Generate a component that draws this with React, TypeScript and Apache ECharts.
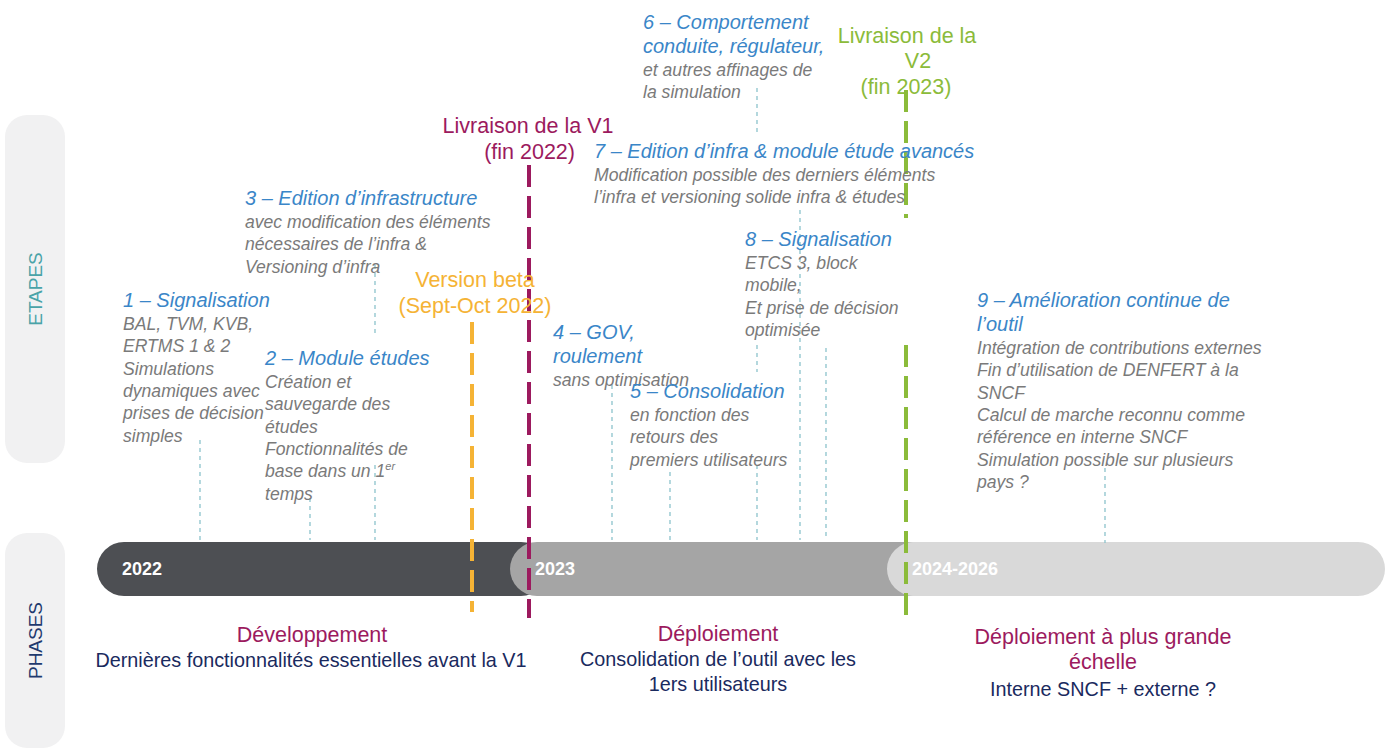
import React, { useEffect, useRef } from "react";
import * as echarts from "echarts";

const FONT = "'Helvetica Neue', 'Liberation Sans', Arial, sans-serif";

// Phase bars: [x0, x1, label, color]
const phases: [number, number, string, string][] = [
  [97, 548, "2022", "#4d4f53"],
  [510, 935, "2023", "#a5a5a5"],
  [887, 1385, "2024-2026", "#d9d9d9"],
];

// Milestone dashed lines: [x, y0, y1, color]
const milestoneLines: [number, number, number, string][] = [
  [472, 322, 612, "#f5b335"],
  [529, 165, 618, "#9c1a5e"],
  [906, 90, 218, "#8bbb3a"],
  [906, 345, 615, "#8bbb3a"],
];

// Thin connectors: [x, y0, y1]
const connectors: [number, number, number][] = [
  [200, 440, 540], [310, 498, 540], [375, 265, 335], [375, 465, 540],
  [612, 385, 540], [670, 472, 540], [757, 88, 132], [757, 345, 372],
  [757, 465, 540], [800, 210, 540], [826, 348, 540], [1105, 468, 543],
];

// Step texts: [x, yFirstLine, titleLines, bodyLines]
const steps: [number, number, string[], string[]][] = [
  [123, 300, ["1 – Signalisation"], ["BAL, TVM, KVB,", "ERTMS 1 & 2", "Simulations", "dynamiques avec", "prises de décision", "simples"]],
  [265, 358, ["2 – Module études"], ["Création et", "sauvegarde des", "études", "Fonctionnalités de", "base dans un 1{sup|er}", "temps"]],
  [245, 198, ["3 – Edition d’infrastructure"], ["avec modification des éléments", "nécessaires de l’infra &", "Versioning d’infra"]],
  [553, 332, ["4 – GOV,", "roulement"], ["sans optimisation"]],
  [630, 391, ["5 – Consolidation"], ["en fonction des", "retours des", "premiers utilisateurs"]],
  [643, 22, ["6 – Comportement", "conduite, régulateur,"], ["et autres affinages de", "la simulation"]],
  [594, 151, ["7 – Edition d’infra & module étude avancés"], ["Modification possible des derniers éléments", "l’infra et versioning solide infra & études"]],
  [745, 239, ["8 – Signalisation"], ["ETCS 3, block", "mobile,", "Et prise de décision", "optimisée"]],
  [977, 300, ["9 – Amélioration continue de", "l’outil"], ["Intégration de contributions externes", "Fin d’utilisation de DENFERT à la", "SNCF", "Calcul de marche reconnu comme", "référence en interne SNCF", "Simulation possible sur plusieurs", "pays ?"]],
];

// Milestone labels: [x, y, text, color, align]
const milestoneLabels: [number, number, string, string, string][] = [
  [475, 280, "Version beta", "#f5b335", "center"],
  [475, 306, "(Sept-Oct 2022)", "#f5b335", "center"],
  [528, 126, "Livraison de la V1", "#9c1a5e", "center"],
  [575, 152, "(fin 2022)", "#9c1a5e", "right"],
  [907, 36, "Livraison de la", "#8bbb3a", "center"],
  [918, 61, "V2", "#8bbb3a", "center"],
  [906, 87, "(fin 2023)", "#8bbb3a", "center"],
];

// Phase descriptions: [x, y, text, color]
const phaseTexts: [number, number, string, string][] = [
  [312, 635, "Développement", "#9c1a5e"],
  [311, 660, "Dernières fonctionnalités essentielles avant la V1", "#1a2a5e"],
  [718, 634, "Déploiement", "#9c1a5e"],
  [718, 659, "Consolidation de l’outil avec les", "#1a2a5e"],
  [718, 684, "1ers utilisateurs", "#1a2a5e"],
  [1103, 637, "Déploiement à plus grande", "#9c1a5e"],
  [1103, 662, "échelle", "#9c1a5e"],
  [1103, 689, "Interne SNCF + externe ?", "#1a2a5e"],
];

// Side panels: [y0, y1, label, color]
const panels: [number, number, string, string][] = [
  [115, 463, "ETAPES", "#4aa3a8"],
  [533, 748, "PHASES", "#1f3a6e"],
];

export default function App() {
  const ref = useRef<HTMLDivElement>(null);
  useEffect(() => {
    document.body.style.margin = "0";
    const chart = echarts.init(ref.current!, null, { renderer: "svg" });
    const axisOff = { show: false };
    chart.setOption({
      animation: false,
      backgroundColor: "#ffffff",
      grid: { left: 0, right: 0, top: 0, bottom: 0 },
      xAxis: { type: "value", min: 0, max: 1388, ...axisOff },
      yAxis: { type: "value", min: 0, max: 752, inverse: true, ...axisOff },
      series: [
        {
          type: "custom",
          data: panels.map((p) => [5, p[0], 65, p[1]]),
          renderItem: (params: any, api: any) => {
            const p = panels[params.dataIndex];
            const a = api.coord([api.value(0), api.value(1)]);
            const b = api.coord([api.value(2), api.value(3)]);
            return {
              type: "group",
              children: [
                { type: "rect", shape: { x: a[0], y: a[1], width: b[0] - a[0], height: b[1] - a[1], r: 22 }, style: { fill: "#f1f1f2" } },
                { type: "text", x: (a[0] + b[0]) / 2, y: (a[1] + b[1]) / 2, rotation: Math.PI / 2,
                  style: { text: p[2], fill: p[3], font: `19px ${FONT}`, align: "center", verticalAlign: "middle" } },
              ],
            };
          },
        },
        {
          type: "custom",
          data: phases.map((p) => [p[0], 542, p[1], 596]),
          renderItem: (params: any, api: any) => {
            const p = phases[params.dataIndex];
            const a = api.coord([api.value(0), api.value(1)]);
            const b = api.coord([api.value(2), api.value(3)]);
            const h = b[1] - a[1];
            return {
              type: "group",
              children: [
                { type: "rect", shape: { x: a[0], y: a[1], width: b[0] - a[0], height: h, r: h / 2 }, style: { fill: p[3] } },
                { type: "text", x: a[0] + 25, y: (a[1] + b[1]) / 2,
                  style: { text: p[2], fill: "#ffffff", font: `bold 18px ${FONT}`, verticalAlign: "middle" } },
              ],
            };
          },
        },
        {
          type: "custom",
          data: connectors.map((c) => [c[0], c[1], c[2]]),
          renderItem: (params: any, api: any) => {
            const a = api.coord([api.value(0), api.value(1)]);
            const b = api.coord([api.value(0), api.value(2)]);
            return { type: "line", shape: { x1: a[0], y1: a[1], x2: b[0], y2: b[1] },
              style: { stroke: "#8cc3cc", lineWidth: 1.3, lineDash: [4, 4] } };
          },
        },
        {
          type: "custom",
          data: milestoneLines.map((c) => [c[0], c[1], c[2]]),
          renderItem: (params: any, api: any) => {
            const m = milestoneLines[params.dataIndex];
            const a = api.coord([api.value(0), api.value(1)]);
            const b = api.coord([api.value(0), api.value(2)]);
            return { type: "line", shape: { x1: a[0], y1: a[1], x2: b[0], y2: b[1] },
              style: { stroke: m[3], lineWidth: 4, lineDash: [22, 9] } };
          },
        },
        {
          type: "custom",
          data: steps.map((s) => [s[0], s[1]]),
          renderItem: (params: any, api: any) => {
            const s = steps[params.dataIndex];
            const p = api.coord([api.value(0), api.value(1)]);
            const children: any[] = [];
            let y = p[1];
            s[2].forEach((t) => {
              children.push({ type: "text", x: p[0], y, style: { text: t, fill: "#3a86c8", font: `italic 20px ${FONT}`, verticalAlign: "middle" } });
              y += 24;
            });
            s[3].forEach((t) => {
              children.push({ type: "text", x: p[0], y, style: { text: t, fill: "#7a7a7a", font: `italic 17.6px ${FONT}`, verticalAlign: "middle",
                rich: { sup: { fontSize: 11, fontStyle: "italic", fill: "#7a7a7a", verticalAlign: "top", padding: [0, 0, 10, 0], fontFamily: FONT } } } });
              y += 22.3;
            });
            return { type: "group", children };
          },
        },
        {
          type: "custom",
          data: milestoneLabels.map((m) => [m[0], m[1]]),
          renderItem: (params: any, api: any) => {
            const m = milestoneLabels[params.dataIndex];
            const p = api.coord([api.value(0), api.value(1)]);
            return { type: "text", x: p[0], y: p[1], style: { text: m[2], fill: m[3], font: `21.5px ${FONT}`, align: m[4], verticalAlign: "middle" } };
          },
        },
        {
          type: "custom",
          data: phaseTexts.map((m) => [m[0], m[1]]),
          renderItem: (params: any, api: any) => {
            const m = phaseTexts[params.dataIndex];
            const p = api.coord([api.value(0), api.value(1)]);
            const big = m[3] === "#9c1a5e";
            return { type: "text", x: p[0], y: p[1], style: { text: m[2], fill: m[3], font: `${big ? 21.5 : 19.8}px ${FONT}`, align: "center", verticalAlign: "middle" } };
          },
        },
      ],
    });
    return () => chart.dispose();
  }, []);
  return <div ref={ref} style={{ width: 1388, height: 752 }} />;
}
